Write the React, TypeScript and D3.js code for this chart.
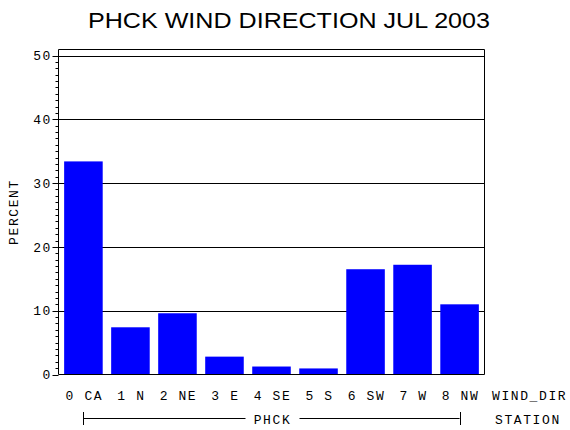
import * as d3 from 'd3';

// Wind direction frequency, PHCK, July 2003
const categories = ['0 CA', '1 N', '2 NE', '3 E', '4 SE', '5 S', '6 SW', '7 W', '8 NW'];
const percents = [33.4, 7.4, 9.6, 2.8, 1.25, 0.95, 16.5, 17.2, 11.0];
const yTicks = [0, 10, 20, 30, 40, 50];
const minorTicks = d3.range(0, 51, 1).filter((v) => v % 10 !== 0);

const W = 570;
const H = 430;
const left = 58.5;
const right = 484.5;
const top = 49.5;
const bottom = 374.5;

const mono = "'Liberation Mono', 'DejaVu Sans Mono', monospace";

export default function App() {
  const x = d3.scaleBand<string>()
    .domain(categories)
    .range([left, right])
    .paddingInner(0.18)
    .paddingOuter(0.12);

  const y = d3.scaleLinear()
    .domain([0, 50])
    .range([bottom, 55.5]);

  const first = categories[0];
  const last = categories[categories.length - 1];
  const groupX0 = (x(first) ?? 0) + x.bandwidth() / 2;
  const groupX1 = (x(last) ?? 0) + x.bandwidth() / 2;
  const groupMid = (groupX0 + groupX1) / 2;

  const txt = { fontFamily: mono, fontSize: 13, letterSpacing: 1.6, fill: '#000' };

  return (
    <svg
      width={W}
      height={H}
      style={{ position: 'absolute', left: 0, top: 0, display: 'block', background: '#fff' }}
    >
      {/* title */}
      <text
        x={88}
        y={28}
        textLength={402}
        lengthAdjust="spacingAndGlyphs"
        fontFamily="'Liberation Sans', Arial, sans-serif"
        fontSize={22}
        fill="#000"
      >
        PHCK WIND DIRECTION JUL 2003
      </text>

      {/* gridlines */}
      {yTicks.filter((t) => t > 0).map((t) => (
        <line key={t} x1={left} x2={right} y1={Math.round(y(t)) + 0.5} y2={Math.round(y(t)) + 0.5} stroke="#000" />
      ))}

      {/* bars */}
      {categories.map((c, i) => (
        <rect
          key={c}
          x={x(c)}
          y={y(percents[i])}
          width={x.bandwidth()}
          height={y(0) - y(percents[i])}
          fill="#0000FF"
        />
      ))}

      {/* frame */}
      <path d={`M${left},${bottom}V${top}H${right}V${bottom}H${left}`} fill="none" stroke="#000" />

      {/* y axis ticks */}
      {yTicks.map((t) => (
        <g key={t}>
          <line x1={left - 6} x2={left} y1={Math.round(y(t)) + 0.5} y2={Math.round(y(t)) + 0.5} stroke="#000" />
          <text x={52} y={y(t)} dy="0.36em" textAnchor="end" {...txt}>
            {t}
          </text>
        </g>
      ))}
      {minorTicks.map((t) => (
        <line key={t} x1={left - 3} x2={left} y1={Math.round(y(t)) + 0.5} y2={Math.round(y(t)) + 0.5} stroke="#000" />
      ))}

      {/* y axis label */}
      <text transform="translate(18,212) rotate(-90)" textAnchor="middle" {...txt}>
        PERCENT
      </text>

      {/* x axis labels */}
      {categories.map((c) => (
        <text key={c} x={(x(c) ?? 0) + x.bandwidth() / 2 + 1} y={400} textAnchor="middle" {...txt}>
          {c}
        </text>
      ))}
      <text x={492} y={400} {...txt}>WIND_DIR</text>

      {/* station group */}
      <line x1={groupX0} x2={groupMid - 26} y1={418.5} y2={418.5} stroke="#000" />
      <line x1={groupMid + 28} x2={groupX1} y1={418.5} y2={418.5} stroke="#000" />
      <line x1={Math.round(groupX0) + 0.5} x2={Math.round(groupX0) + 0.5} y1={412} y2={425} stroke="#000" />
      <line x1={Math.round(groupX1) + 0.5} x2={Math.round(groupX1) + 0.5} y1={412} y2={425} stroke="#000" />
      <text x={groupMid + 1} y={424} textAnchor="middle" {...txt}>PHCK</text>
      <text x={495} y={424} {...txt}>STATION</text>
    </svg>
  );
}
